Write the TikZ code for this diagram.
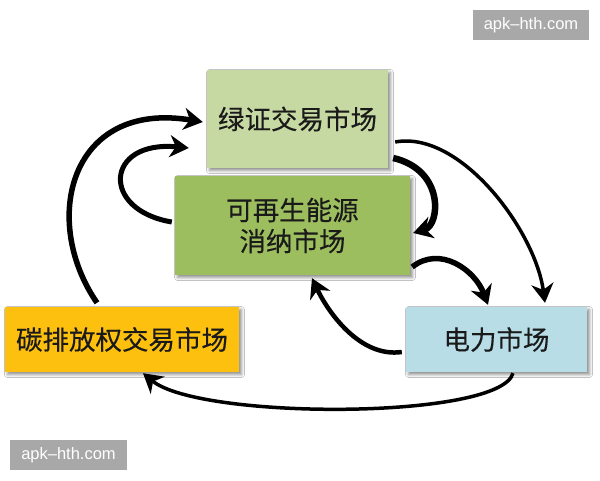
\documentclass[tikz,border=0pt]{standalone}
\usepackage{fontspec}
\newfontfamily\cjk[FakeBold=0.35]{Noto Sans CJK SC}
\newfontfamily\wmfont{Liberation Sans}
\usetikzlibrary{arrows.meta,calc,shadows.blur}
\definecolor{topg}{HTML}{C6D9A2}
\definecolor{midg}{HTML}{9DBE5E}
\definecolor{carb}{HTML}{FDC00E}
\definecolor{powb}{HTML}{B8DDE7}
\definecolor{txt}{HTML}{1A1A1A}
\definecolor{wmg}{HTML}{A8A8A8}
\begin{document}
\begin{tikzpicture}[x=1pt,y=-1pt,
  box/.style={draw=none, inner sep=0pt, text=txt, align=center,
    font=\cjk\fontsize{26.5}{31}\selectfont,
    blur shadow={shadow xshift=2.5pt, shadow yshift=-2.5pt, shadow blur radius=3pt, shadow opacity=45}},
  wm/.style={fill=wmg, text=white, inner sep=0pt, font=\wmfont\fontsize{16.5}{18}\selectfont},
  arr/.style={-{Stealth[length=19pt,width=22pt,inset=6pt]}, black, line cap=butt}]
\useasboundingbox (0,0) rectangle (600,480);
\fill[white] (0,0) rectangle (600,480);

\node[box, fill=topg, minimum width=181pt, minimum height=98pt] (top) at (297.5,119) {绿证交易市场};
\node[box, fill=midg, minimum width=235pt, minimum height=99pt] (mid) at (292.5,225.5) {可再生能源\\消纳市场};
\node[box, fill=carb, minimum width=234pt, minimum height=65pt] (carbon) at (122,339.5) {碳排放权交易市场};
\node[box, fill=powb, minimum width=181pt, minimum height=65pt] (power) at (496.5,339.5) {电力市场};

\node[wm, minimum width=116pt, minimum height=30pt] (wm1) at (531,25) {apk–hth.com};
\node[wm, minimum width=117pt, minimum height=30pt] (wm2) at (68.5,455) {apk–hth.com};

% carbon -> top
\draw[arr, line width=5.5pt] ($(carbon.north)+(-25,-4)$) .. controls (40,220) and (70,100) .. ($(top.west)+(-4,3)$);
% mid -> top
\draw[arr, line width=5pt] ($(mid.west)+(-3,-3.5)$) .. controls (100,210) and (105,140) .. ($(top.west)+(-18,29)$);
% top -> mid
\draw[arr, line width=6.5pt] ($(top.east)+(5,39)$) .. controls (445,170) and (440,225) .. ($(mid.east)+(3,7.5)$);
% top -> power
\draw[arr, line width=3.5pt] ($(top.east)+(7,23)$) .. controls (460,130) and (535,230) .. ($(power.north)+(48.5,-4)$);
% mid -> power
\draw[arr, line width=5.5pt] ($(mid.east)+(2,41.5)$) .. controls (440,245) and (475,270) .. ($(power.north)+(-8.5,-2)$);
% power -> mid
\draw[arr, line width=4.5pt] ($(power.west)+(-4,12.5)$) .. controls (360,358) and (328,312) .. ($(mid.south)+(19.5,3)$);
% power -> carbon
\draw[arr, line width=3.5pt] ($(power.south)+(16.5,1)$) .. controls (500,420) and (200,420) .. ($(carbon.south)+(21,1)$);
\end{tikzpicture}
\end{document}
